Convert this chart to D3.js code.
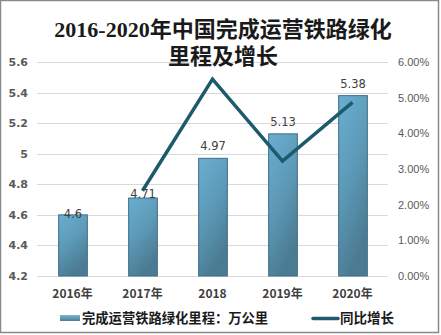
<!DOCTYPE html>
<html><head><meta charset="utf-8">
<script src="https://cdn.jsdelivr.net/npm/d3@7"></script>
<style>html,body{margin:0;padding:0;background:#fff;}</style>
</head><body>
<script>
const categories = ["2016年","2017年","2018","2019年","2020年"];
const mileage = [4.6, 4.71, 4.97, 5.13, 5.38];
const growth = [null, 2.39, 5.52, 3.22, 4.87];
const leftTicks = [4.2, 4.4, 4.6, 4.8, 5, 5.2, 5.4, 5.6];
const rightTicks = [0, 1, 2, 3, 4, 5, 6];
const labelShift = [3, 0, -8, -8, -8];

const W = 441, H = 335;
const svg = d3.select("body").append("svg").attr("width", W).attr("height", H);
const defs = svg.append("defs");
const g = defs.append("linearGradient").attr("id","barg").attr("x1","0").attr("y1","0").attr("x2","0.4").attr("y2","1");
g.append("stop").attr("offset","0").attr("stop-color","#6aaed0");
g.append("stop").attr("offset","0.5").attr("stop-color","#5d9ab8");
g.append("stop").attr("offset","1").attr("stop-color","#4b7b92");
const lg = defs.append("linearGradient").attr("id","legg").attr("x1","0").attr("y1","0").attr("x2","0").attr("y2","1");
lg.append("stop").attr("offset","0").attr("stop-color","#7ab6d4");
lg.append("stop").attr("offset","1").attr("stop-color","#4b7b92");

svg.append("rect").attr("x",0.5).attr("y",0.5).attr("width",W-3).attr("height",H-3)
  .attr("fill","#fff").attr("stroke","#8a8a8a").attr("stroke-width",1.5);

const x = d3.scaleBand().domain(categories).range([37.5, 387.5]).paddingInner(0.59).paddingOuter(0.295);
const yL = d3.scaleLinear().domain([4.2, 5.6]).range([276, 62]);
const yR = d3.scaleLinear().domain([0, 6]).range([276, 62]);

// gridlines
svg.append("g").selectAll("line").data(leftTicks).join("line")
  .attr("x1",37).attr("x2",388).attr("y1",d=>Math.round(yL(d))+0.5).attr("y2",d=>Math.round(yL(d))+0.5)
  .attr("stroke","#d9d9d9").attr("stroke-width",1);

// left axis
const axL = svg.append("g").attr("transform","translate(37,0)")
  .call(d3.axisLeft(yL).tickValues(leftTicks).tickSize(0).tickPadding(9).tickFormat(d=>d3.format("")(d)));
axL.select(".domain").remove();
axL.selectAll("text").attr("font-family","'DejaVu Sans', sans-serif").attr("font-size",11)
  .attr("font-weight","bold").attr("fill","#595959");

// right axis
const axR = svg.append("g").attr("transform","translate(388,0)")
  .call(d3.axisRight(yR).tickValues(rightTicks).tickSize(0).tickPadding(10).tickFormat(d=>d.toFixed(2)+"%"));
axR.select(".domain").remove();
axR.selectAll("text").attr("font-family","'Liberation Sans', Arial, sans-serif").attr("font-size",11)
  .attr("fill","#595959");

// x axis
const axX = svg.append("g").attr("transform","translate(0,276)")
  .call(d3.axisBottom(x).tickSize(0).tickPadding(13));
axX.select(".domain").remove();
axX.selectAll("text").attr("font-family","'Noto Sans CJK SC', sans-serif").attr("font-size",12)
  .attr("font-weight","bold").attr("fill","#404040");

// bars
svg.append("g").selectAll("rect").data(mileage).join("rect")
  .attr("x",(d,i)=>x(categories[i])+0.5).attr("y",d=>yL(d))
  .attr("width",x.bandwidth()).attr("height",d=>yL(4.2)-yL(d))
  .attr("fill","url(#barg)").attr("stroke","#3f6f86").attr("stroke-width",1);

// line
const line = d3.line().defined(d=>d.v!=null).x(d=>x(d.c)+x.bandwidth()/2).y(d=>yR(d.v));
svg.append("path").datum(categories.map((c,i)=>({c, v:growth[i]})))
  .attr("d",line).attr("fill","none").attr("stroke","#1c5a6c").attr("stroke-width",3.5)
  .attr("stroke-linejoin","miter");

// labels
svg.append("g").selectAll("text").data(mileage).join("text")
  .attr("x",(d,i)=>x(categories[i])+x.bandwidth()/2+0.5).attr("y",(d,i)=>yL(d)+labelShift[i])
  .attr("text-anchor","middle").attr("font-family","'DejaVu Sans', sans-serif").attr("font-size",11.5)
  .attr("fill","#404040").text(d=>d);

// title
const title = svg.append("text").attr("text-anchor","middle").attr("font-family","'Liberation Serif','Noto Sans CJK SC', serif")
  .attr("font-size",22).attr("font-weight","bold").attr("fill","#1a1a1a");
title.append("tspan").attr("x",223).attr("y",37).text("2016-2020年中国完成运营铁路绿化");
title.append("tspan").attr("x",223).attr("y",64).text("里程及增长");

// legend
const leg = svg.append("g");
leg.append("rect").attr("x",60).attr("y",315).attr("width",20).attr("height",6).attr("fill","url(#legg)");
leg.append("text").attr("x",82).attr("y",323).attr("font-family","'Noto Sans CJK SC', sans-serif")
  .attr("font-size",13.3).attr("font-weight","bold").attr("fill","#1a1a1a").text("完成运营铁路绿化里程：万公里");
leg.append("line").attr("x1",313).attr("x2",338).attr("y1",318.5).attr("y2",318.5)
  .attr("stroke","#1c5a6c").attr("stroke-width",3.5).attr("stroke-linecap","round");
leg.append("text").attr("x",340).attr("y",323).attr("font-family","'Noto Sans CJK SC', sans-serif")
  .attr("font-size",13.5).attr("font-weight","bold").attr("fill","#1a1a1a").text("同比增长");
</script>
</body></html>
